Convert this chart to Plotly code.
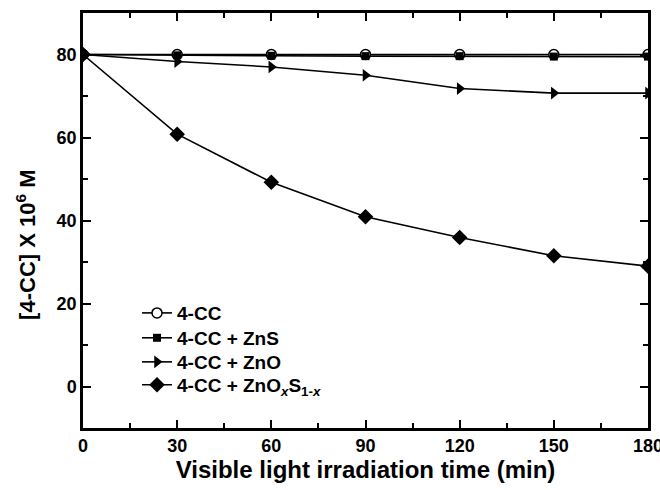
import plotly.graph_objects as go

time_min = [0, 30, 60, 90, 120, 150, 180]
cc_only = [80, 80, 80, 80, 80, 80, 80]
cc_zns = [80, 79.8, 79.7, 79.6, 79.6, 79.5, 79.5]
cc_zno = [80, 78.3, 77.0, 75.0, 71.8, 70.7, 70.7]
cc_znoxs = [80, 60.8, 49.2, 40.9, 35.9, 31.5, 29.0]

series_names = ["4-CC", "4-CC + ZnS", "4-CC + ZnO",
                "4-CC + ZnO<sub><i>x</i></sub>S<sub>1-<i>x</i></sub>"]

x_ticks = [0, 30, 60, 90, 120, 150, 180]
y_ticks = [0, 20, 40, 60, 80]

FONT = "Liberation Sans, Arial"

fig = go.Figure()
styles = [
    (cc_only, dict(symbol="circle", size=10, color="white", line=dict(color="black", width=1.5))),
    (cc_zns, dict(symbol="square", size=8, color="black")),
    (cc_zno, dict(symbol="triangle-right", size=11, color="black")),
    (cc_znoxs, dict(symbol="diamond", size=12, color="black")),
]
legend_ids = ["legend", "legend2", "legend3", "legend4"]
for name, (vals, mk), lid in zip(series_names, styles, legend_ids):
    fig.add_trace(go.Scatter(x=time_min, y=vals, name=f"<b>{name}</b>", mode="lines+markers",
                             line=dict(color="black", width=1.6), marker=mk, legend=lid))

axis_common = dict(showline=True, linecolor="black", linewidth=2.5, mirror="allticks",
                   ticks="inside", ticklen=8, tickwidth=2, tickcolor="black",
                   showgrid=False, zeroline=False, automargin=False,
                   ticklabeloverflow="allow",
                   tickfont=dict(family=FONT, size=18, color="black"))

fig.update_xaxes(range=[0, 180], tickvals=x_ticks,
                 ticktext=[f"<b>{v}</b>" for v in x_ticks],
                 minor=dict(tickvals=[15, 45, 75, 105, 135, 165], ticklen=5, tickwidth=2,
                            tickcolor="black", ticks="inside"),
                 title=dict(text="<b>Visible light irradiation time (min)</b>",
                            font=dict(family=FONT, size=24, color="black"),
                            standoff=4),
                 **axis_common)
fig.update_yaxes(range=[-10, 90], tickvals=y_ticks,
                 ticktext=[f"<b>{v}</b>" for v in y_ticks],
                 minor=dict(tickvals=[-10, 10, 30, 50, 70, 90], ticklen=5, tickwidth=2,
                            tickcolor="black", ticks="inside"),
                 **axis_common)

fig.add_annotation(text="<b>[4-CC] X 10<sup>6</sup> M</b>", textangle=-90,
                   xref="paper", yref="paper", x=-0.1, y=0.44,
                   xanchor="center", yanchor="middle", showarrow=False,
                   font=dict(family=FONT, size=22, color="black"))

legend_style = dict(x=0.0956, xanchor="left", yanchor="middle",
                    bgcolor="rgba(0,0,0,0)",
                    font=dict(family=FONT, size=19, color="black"), itemwidth=30)
legend_y = [0.277, 0.217, 0.159, 0.104]

fig.update_layout(
    width=660, height=490,
    margin=dict(l=83, r=12, t=13, b=62),
    paper_bgcolor="white", plot_bgcolor="white",
    showlegend=True,
    legend=dict(y=legend_y[0], **legend_style),
    legend2=dict(y=legend_y[1], **legend_style),
    legend3=dict(y=legend_y[2], **legend_style),
    legend4=dict(y=legend_y[3], **legend_style),
)

fig.write_html("out.html", config={"displayModeBar": False},
               post_script="document.body.style.margin='0';document.body.style.overflow='hidden';")
